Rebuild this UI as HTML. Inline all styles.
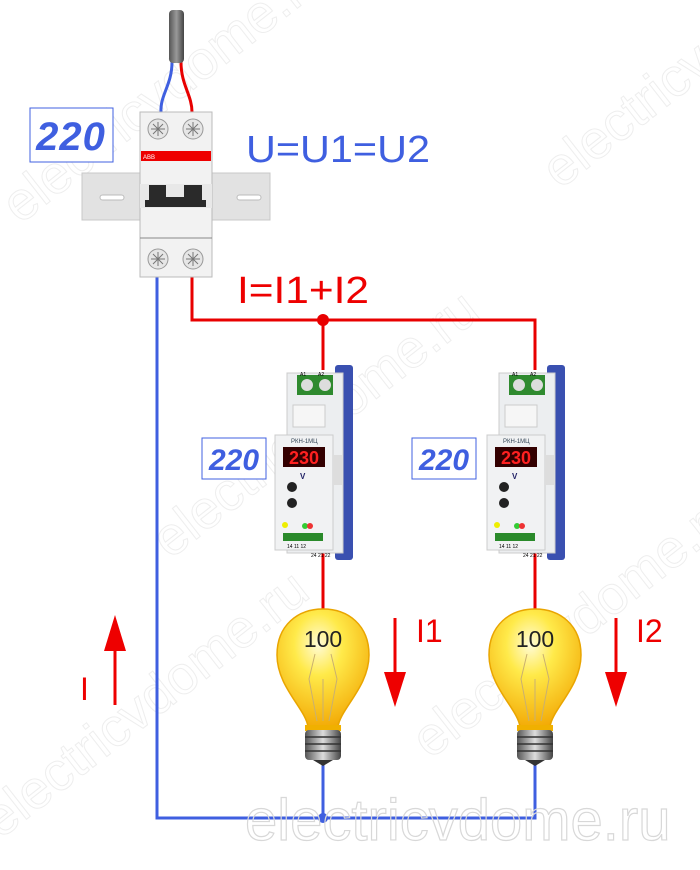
<!DOCTYPE html>
<html><head><meta charset="utf-8"><style>
html,body{margin:0;padding:0;background:#fff;}
svg{display:block;}
text{font-family:"Liberation Sans",sans-serif;}
</style></head><body>
<svg width="700" height="870" viewBox="0 0 700 870" xmlns="http://www.w3.org/2000/svg">
<defs>
<radialGradient id="bulb" cx="0.45" cy="0.3" r="0.75">
<stop offset="0" stop-color="#fffbd8"/><stop offset="0.35" stop-color="#ffea4a"/><stop offset="1" stop-color="#f2a400"/>
</radialGradient>
<linearGradient id="base" x1="0" x2="1"><stop offset="0" stop-color="#555"/><stop offset="0.5" stop-color="#ddd"/><stop offset="1" stop-color="#444"/></linearGradient>
<linearGradient id="cab" x1="0" x2="1"><stop offset="0" stop-color="#555"/><stop offset="0.5" stop-color="#999"/><stop offset="1" stop-color="#444"/></linearGradient>
<g id="bulbg">
<path d="M-15,118 C-17,100 -46,78 -46,46 C-46,16 -25,0 0,0 C25,0 46,16 46,46 C46,78 17,100 15,118 Z" fill="url(#bulb)" stroke="#e9a500" stroke-width="1.5"/>
<path d="M-8,45 L-14,70 L-6,112 M8,45 L14,70 L6,112 M0,70 L0,112" stroke="#c9b070" stroke-width="1" fill="none"/>
<rect x="-18" y="116" width="36" height="6" fill="#f0b000"/>
<rect x="-18" y="121" width="36" height="30" rx="4" fill="url(#base)"/>
<path d="M-18,128 H18 M-18,135 H18 M-18,142 H18" stroke="#333" stroke-width="1.5"/>
<path d="M-10,151 L0,157 L10,151 Z" fill="#333"/>
<text x="0" y="38" font-size="23" text-anchor="middle" fill="#222">100</text>
</g>
<g id="relay">
<rect x="60" y="0" width="18" height="195" rx="3" fill="#3a50b0"/>
<rect x="12" y="8" width="56" height="180" fill="#eceef0" stroke="#ccc"/>
<rect x="0" y="70" width="58" height="115" fill="#f1f2f3" stroke="#ccc"/>
<rect x="22" y="10" width="36" height="20" fill="#2f8a2f"/>
<circle cx="32" cy="20" r="6" fill="#ddd"/><circle cx="50" cy="20" r="6" fill="#ddd"/>
<text x="25" y="11" font-size="5">A1</text><text x="43" y="11" font-size="5">A2</text>
<rect x="18" y="40" width="32" height="22" fill="#f6f6f6" stroke="#ccc"/>
<text x="16" y="78" font-size="6" fill="#345">РКН-1МЦ</text>
<rect x="8" y="82" width="42" height="20" fill="#300"/>
<text x="29" y="99" font-size="18" fill="#ff2020" text-anchor="middle" font-weight="bold">230</text>
<text x="25" y="114" font-size="8" fill="#226" font-weight="bold">V</text>
<circle cx="17" cy="122" r="5" fill="#222"/><circle cx="17" cy="138" r="5" fill="#222"/>
<circle cx="10" cy="160" r="3" fill="#ee0"/><circle cx="30" cy="161" r="3" fill="#3c3"/><circle cx="35" cy="161" r="3" fill="#e33"/>
<rect x="8" y="168" width="40" height="8" fill="#2a8a2a"/>
<text x="12" y="183" font-size="5">14  11  12</text>
<text x="36" y="192" font-size="5">24 21 22</text>
<rect x="58" y="90" width="10" height="30" fill="#ddd"/>
</g>
</defs>

<!-- watermarks -->
<g fill="none" stroke="#eeeeee" stroke-width="1">
<text x="0" y="0" font-size="54" transform="translate(20,225) rotate(-38)">electricvdome.ru</text>
<text x="0" y="0" font-size="54" transform="translate(170,560) rotate(-38)">electricvdome.ru</text>
<text x="0" y="0" font-size="54" transform="translate(0,840) rotate(-38)">electricvdome.ru</text>
<text x="0" y="0" font-size="54" transform="translate(430,760) rotate(-38)">electricvdome.ru</text>
<text x="0" y="0" font-size="54" transform="translate(560,190) rotate(-38)">electricvdome.ru</text>
</g>

<!-- wires -->
<polyline points="157,277 157,818 535,818 535,765" fill="none" stroke="#3f5fe0" stroke-width="3"/>
<line x1="323" y1="765" x2="323" y2="818" stroke="#3f5fe0" stroke-width="3"/>
<circle cx="323" cy="818" r="5" fill="#3f5fe0"/>
<polyline points="192,277 192,320 535,320 535,370" fill="none" stroke="#e80000" stroke-width="3"/>
<line x1="323" y1="320" x2="323" y2="370" stroke="#e80000" stroke-width="3"/>
<circle cx="323" cy="320" r="6" fill="#e80000"/>
<line x1="323" y1="550" x2="323" y2="612" stroke="#e80000" stroke-width="3"/>
<line x1="535" y1="550" x2="535" y2="612" stroke="#e80000" stroke-width="3"/>
<path d="M172,62 C172,85 160,95 161,112" stroke="#3f5fe0" stroke-width="3" fill="none"/>
<path d="M181,62 C181,85 192,95 192,112" stroke="#e80000" stroke-width="3" fill="none"/>
<rect x="169" y="10" width="15" height="53" rx="4" fill="url(#cab)"/>

<!-- DIN rail + breaker -->
<rect x="82" y="173" width="188" height="47" fill="#e2e2e2" stroke="#c8c8c8"/>
<rect x="100" y="195" width="24" height="5" rx="2.5" fill="#fff" stroke="#bbb"/>
<rect x="237" y="195" width="24" height="5" rx="2.5" fill="#fff" stroke="#bbb"/>
<rect x="140" y="112" width="72" height="165" fill="#f2f2f2" stroke="#bbb"/>
<rect x="141" y="151" width="70" height="10" fill="#ee0000"/>
<text x="143" y="159" font-size="6" fill="#fff">ABB</text>
<rect x="140" y="184" width="72" height="24" fill="#e8e8e8"/>
<path d="M149,185 h17 v12 h18 v-12 h18 v15 h4 v7 h-61 v-7 h4 Z" fill="#2a2a2a"/>
<line x1="140" y1="238" x2="212" y2="238" stroke="#888"/>
<g fill="#e6e6e6" stroke="#999">
<circle cx="158" cy="129" r="10"/><circle cx="193" cy="129" r="10"/>
<circle cx="158" cy="259" r="10"/><circle cx="193" cy="259" r="10"/>
</g>
<g stroke="#777" stroke-width="1">
<path d="M151,129h14M158,122v14M153,124l10,10M163,124l-10,10"/>
<path d="M186,129h14M193,122v14M188,124l10,10M198,124l-10,10"/>
<path d="M151,259h14M158,252v14M153,254l10,10M163,254l-10,10"/>
<path d="M186,259h14M193,252v14M188,254l10,10M198,254l-10,10"/>
</g>

<!-- displays -->
<rect x="30" y="108" width="83" height="54" fill="#fff" stroke="#4060e0" stroke-width="1"/>
<text x="71" y="150" font-size="40" fill="#3f5fe0" text-anchor="middle" font-style="italic" font-weight="bold" letter-spacing="1">220</text>
<rect x="202" y="438" width="64" height="41" fill="#fff" stroke="#4060e0"/>
<text x="234" y="470" font-size="30" fill="#3f5fe0" text-anchor="middle" font-style="italic" font-weight="bold">220</text>
<rect x="412" y="438" width="64" height="41" fill="#fff" stroke="#4060e0"/>
<text x="444" y="470" font-size="30" fill="#3f5fe0" text-anchor="middle" font-style="italic" font-weight="bold">220</text>

<text x="246" y="162" font-size="38" fill="#3f5fe0" textLength="184" lengthAdjust="spacingAndGlyphs">U=U1=U2</text>
<text x="237" y="303" font-size="38" fill="#ee0000" textLength="132" lengthAdjust="spacingAndGlyphs">I=I1+I2</text>

<use href="#relay" x="275" y="365"/>
<use href="#relay" x="487" y="365"/>

<use href="#bulbg" x="323" y="609"/>
<use href="#bulbg" x="535" y="609"/>

<!-- arrows -->
<line x1="395" y1="618" x2="395" y2="680" stroke="#ee0000" stroke-width="3"/>
<path d="M384,672 L406,672 L395,707 Z" fill="#ee0000"/>
<line x1="616" y1="618" x2="616" y2="680" stroke="#ee0000" stroke-width="3"/>
<path d="M605,672 L627,672 L616,707 Z" fill="#ee0000"/>
<path d="M104,651 L126,651 L115,615 Z" fill="#ee0000"/>
<line x1="115" y1="645" x2="115" y2="705" stroke="#ee0000" stroke-width="3"/>
<text x="416" y="642" font-size="32" fill="#ee0000">I1</text>
<text x="636" y="642" font-size="32" fill="#ee0000">I2</text>
<text x="80" y="700" font-size="32" fill="#ee0000">I</text>

<text x="245" y="840" font-size="58" fill="none" stroke="#d8d8d8" stroke-width="1.2">electricvdome.ru</text>
</svg>
</body></html>
